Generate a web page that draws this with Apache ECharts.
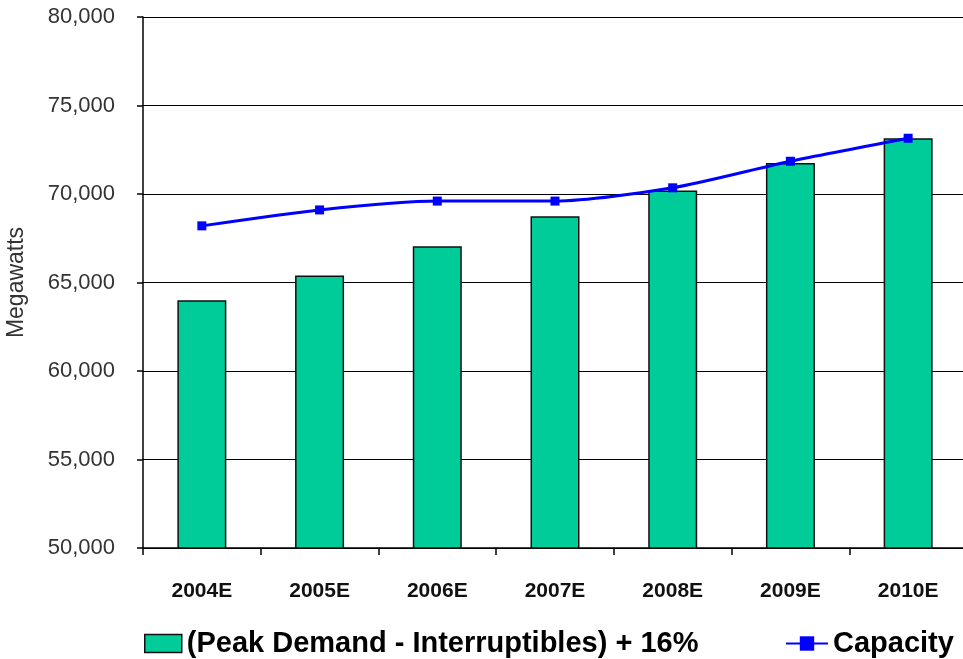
<!DOCTYPE html>
<html>
<head>
<meta charset="utf-8">
<script src="https://cdn.jsdelivr.net/npm/echarts@6/dist/echarts.min.js"></script>
<style>html,body{margin:0;padding:0;background:#fff;}#c{width:963px;height:659px;}</style>
</head>
<body>
<div id="c"></div>
<script>
const categories = ['2004E','2005E','2006E','2007E','2008E','2009E','2010E'];
const demand = [64000, 65400, 67050, 68750, 70200, 71750, 73150];
const capacity = [68200, 69100, 69600, 69600, 70350, 71850, 73150];
const barName = '(Peak Demand - Interruptibles) + 16%';
const lineName = 'Capacity';

const chart = echarts.init(document.getElementById('c'));
chart.setOption({
  animation: false,
  backgroundColor: '#fff',
  grid: { left: 143, top: 17, width: 824, height: 531, outerBoundsMode: 'none', containLabel: false },
  legend: [
    { left: 139, top: 624, itemWidth: 37, itemHeight: 18, itemGap: 7, icon: 'rect',
      data: [barName],
      itemStyle: { borderColor: '#111', borderWidth: 1.5 },
      textStyle: { fontFamily: 'Liberation Sans, Arial', fontWeight: 'bold', fontSize: 29, color: '#000' } },
    { left: 780, top: 624, itemWidth: 42, itemHeight: 18, itemGap: 7,
      data: [lineName],
      textStyle: { fontFamily: 'Liberation Sans, Arial', fontWeight: 'bold', fontSize: 29, color: '#000' } }
  ],
  xAxis: {
    type: 'category',
    data: categories,
    boundaryGap: true,
    axisLine: { lineStyle: { color: '#000', width: 1.5 } },
    axisTick: { show: true, length: 7, lineStyle: { color: '#000', width: 1.5 } },
    axisLabel: { margin: 33, fontFamily: 'Liberation Sans, Arial', fontWeight: 'bold', fontSize: 21, color: '#111' }
  },
  yAxis: {
    type: 'value',
    min: 50000, max: 80000, interval: 5000,
    name: 'Megawatts',
    nameLocation: 'middle',
    nameGap: 115,
    nameRotate: 90,
    nameTextStyle: { fontFamily: 'Liberation Sans, Arial', fontSize: 23, color: '#333' },
    axisLine: { show: true, lineStyle: { color: '#000', width: 1.5 } },
    axisTick: { show: true, length: 6, lineStyle: { color: '#000', width: 1.5 } },
    splitLine: { lineStyle: { color: '#000', width: 1.2 } },
    axisLabel: {
      margin: 28, fontFamily: 'Liberation Sans, Arial', fontSize: 22, color: '#333',
      formatter: v => v.toLocaleString('en-US')
    }
  },
  series: [
    {
      name: barName, type: 'bar', data: demand, barWidth: 49,
      itemStyle: { color: '#00CC99', borderColor: '#111', borderWidth: 1.5 }
    },
    {
      name: lineName, type: 'line', data: capacity, smooth: 0.25,
      symbol: 'rect', symbolSize: 9, showSymbol: true,
      lineStyle: { color: '#0000FF', width: 3 },
      itemStyle: { color: '#0000FF' }
    }
  ]
});
</script>
</body>
</html>
